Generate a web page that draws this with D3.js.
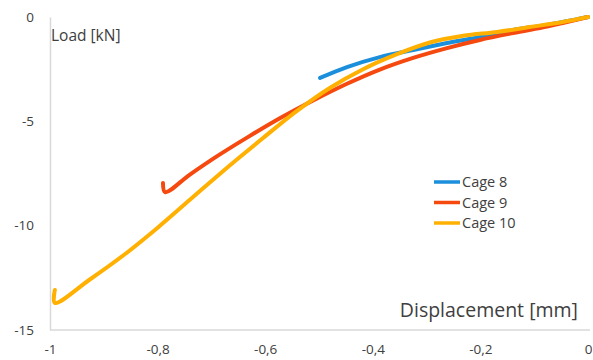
<!DOCTYPE html>
<html>
<head>
<meta charset="utf-8">
<script src="https://cdn.jsdelivr.net/npm/d3@7"></script>
<style>
  html, body { margin: 0; padding: 0; background: #fff; }
  svg { display: block; font-family: "Open Sans", "Noto Sans", sans-serif; }
</style>
</head>
<body>
<svg id="chart" width="593" height="360"></svg>
<script>
// Load–displacement curves for three cages
const seriesNames = ["Cage 8", "Cage 9", "Cage 10"];
const seriesColors = ["#1b8fdb", "#f5490f", "#ffb000"];

const cage8Disp = [0, -0.076, -0.139, -0.201, -0.262, -0.325, -0.387, -0.448, -0.498];
const cage8Load = [0, -0.38, -0.62, -0.96, -1.25, -1.58, -1.92, -2.40, -2.92];

const cage9Disp = [0, -0.045, -0.076, -0.139, -0.201, -0.262, -0.325, -0.387, -0.448, -0.511, -0.572, -0.630, -0.690, -0.740, -0.786, -0.790];
const cage9Load = [0, -0.28, -0.46, -0.77, -1.10, -1.49, -1.96, -2.52, -3.20, -4.00, -4.84, -5.72, -6.68, -7.55, -8.39, -7.95];

const cage10Disp = [0, -0.047, -0.108, -0.169, -0.232, -0.294, -0.355, -0.418, -0.480, -0.541, -0.604, -0.647, -0.678, -0.740, -0.801, -0.864, -0.926, -0.991, -0.991];
const cage10Load = [0, -0.24, -0.48, -0.72, -0.90, -1.22, -1.78, -2.50, -3.40, -4.50, -5.80, -6.71, -7.38, -8.76, -10.12, -11.43, -12.58, -13.70, -13.08];

const xTicks = [-1, -0.8, -0.6, -0.4, -0.2, 0];
const xTickLabels = ["-1", "-0,8", "-0,6", "-0,4", "-0,2", "0"];
const yTicks = [0, -5, -10, -15];
const yTickLabels = ["0", "-5", "-10", "-15"];

const series = [
  { name: seriesNames[0], color: seriesColors[0], pts: d3.zip(cage8Disp, cage8Load) },
  { name: seriesNames[1], color: seriesColors[1], pts: d3.zip(cage9Disp, cage9Load) },
  { name: seriesNames[2], color: seriesColors[2], pts: d3.zip(cage10Disp, cage10Load) }
];

const svg = d3.select("#chart");
const x = d3.scaleLinear().domain([-1, 0]).range([50, 588]);
const y = d3.scaleLinear().domain([-15, 0]).range([330, 17]);

const textColor = "#404040";
const axisColor = "#d9d9d9";

// Axes
const xAxis = svg.append("g").attr("transform", `translate(0,${y(-15)})`)
  .call(d3.axisBottom(x).tickValues(xTicks).tickSize(0).tickPadding(14)
    .tickFormat((d, i) => xTickLabels[i]));
const yAxis = svg.append("g").attr("transform", `translate(${x(-1)},0)`)
  .call(d3.axisLeft(y).tickValues(yTicks).tickSize(0).tickPadding(16)
    .tickFormat((d, i) => yTickLabels[i]));
[xAxis, yAxis].forEach(g => {
  g.select(".domain").attr("stroke", axisColor).attr("stroke-width", 1.5);
  g.selectAll("text").attr("fill", textColor).style("font-size", "13.5px")
    .style("font-family", "'Open Sans', sans-serif");
});
xAxis.select(".domain").attr("d", `M${x(-1)},0H${x(0) + 2}`);

// Curves
const line = d3.line()
  .x(d => x(d[0]))
  .y(d => y(d[1]))
  .curve(d3.curveCatmullRom.alpha(0.5));

svg.append("g").selectAll("path").data(series).join("path")
  .attr("d", d => line(d.pts))
  .attr("fill", "none")
  .attr("stroke", d => d.color)
  .attr("stroke-width", 4)
  .attr("stroke-linecap", "round")
  .attr("stroke-linejoin", "round");

// Axis titles
svg.append("text").attr("x", 51).attr("y", 41)
  .attr("fill", textColor).style("font-size", "15.5px").text("Load [kN]");
svg.append("text").attr("x", 578).attr("y", 317).attr("text-anchor", "end")
  .attr("fill", textColor).style("font-size", "19.5px").text("Displacement [mm]");

// Legend
const legend = svg.append("g");
series.forEach((s, i) => {
  const ly = 182 + i * 20.5;
  legend.append("line").attr("x1", 434).attr("x2", 460).attr("y1", ly).attr("y2", ly)
    .attr("stroke", s.color).attr("stroke-width", 3.5);
  legend.append("text").attr("x", 462).attr("y", ly + 5)
    .attr("fill", textColor).style("font-size", "14.5px").text(s.name);
});
</script>
</body>
</html>
